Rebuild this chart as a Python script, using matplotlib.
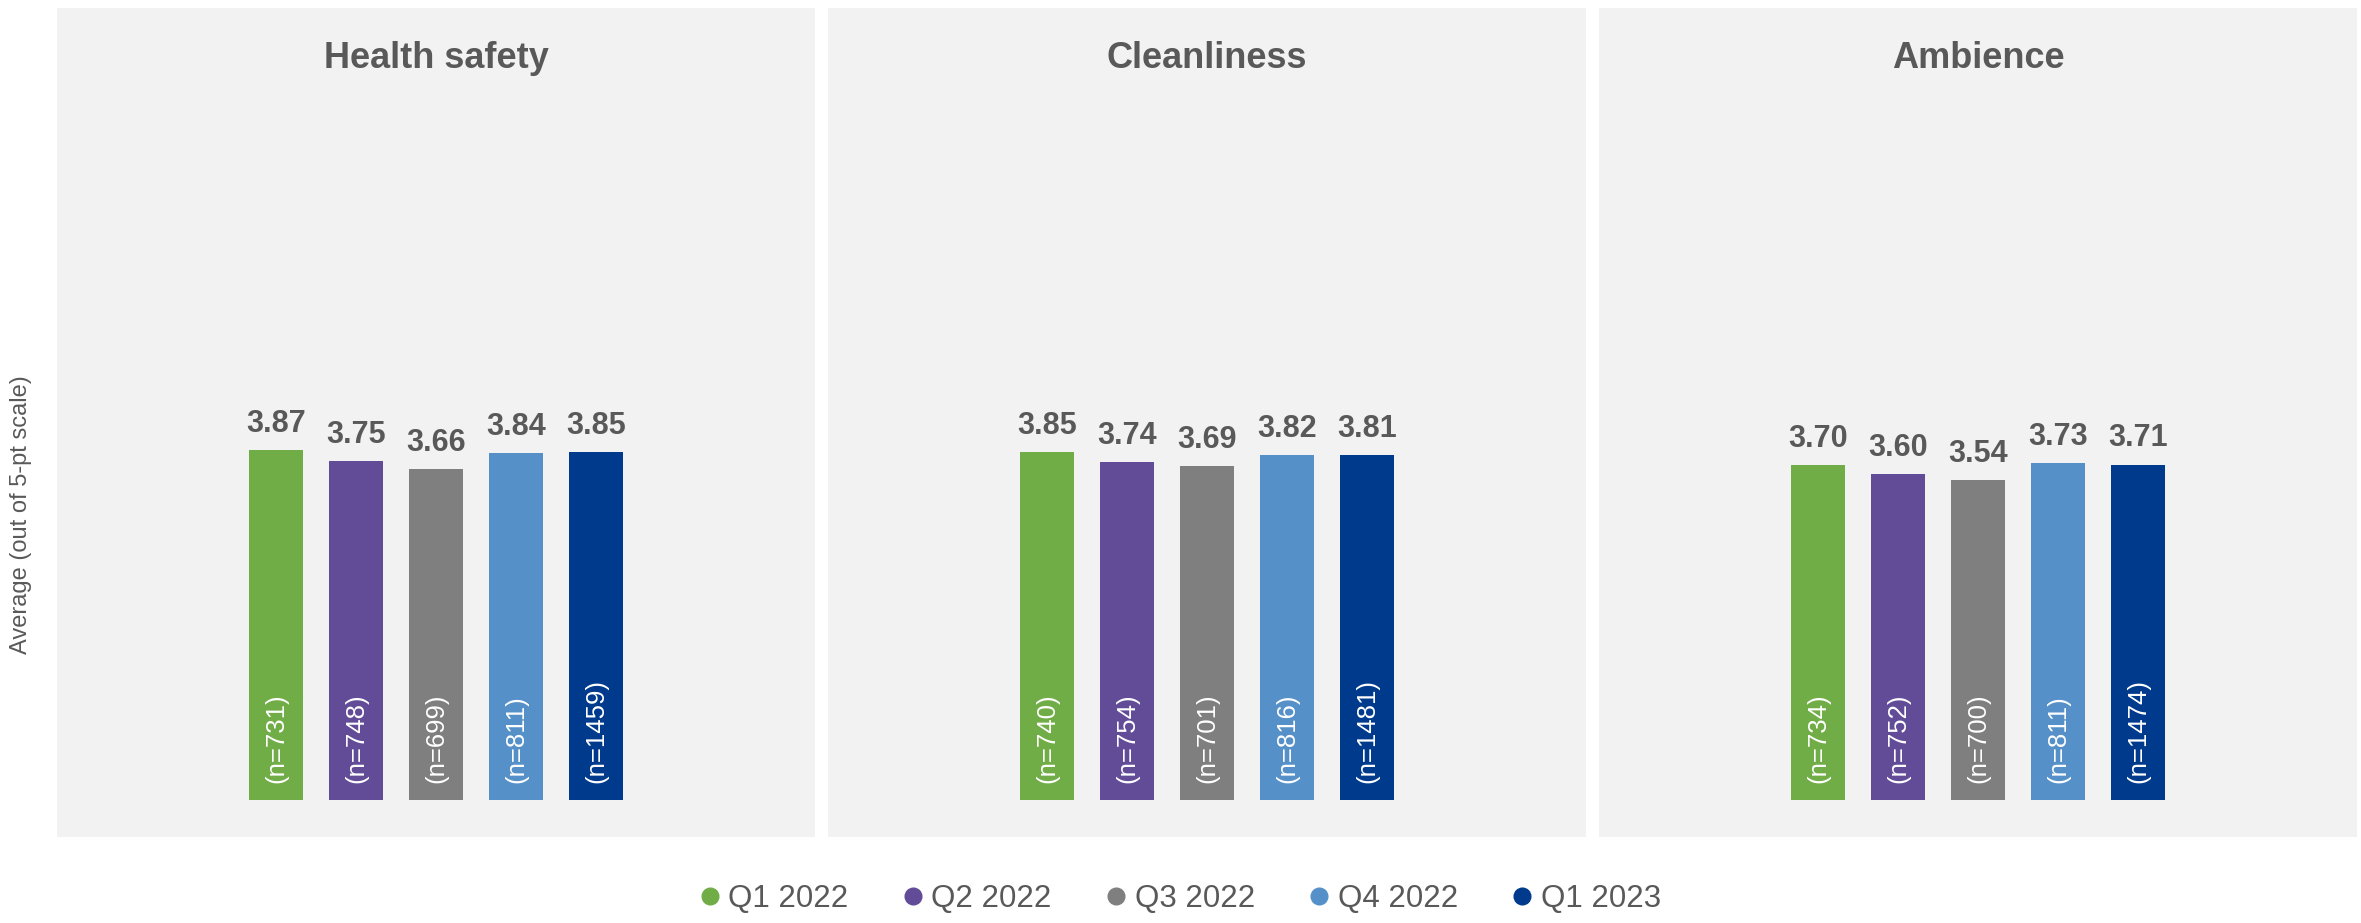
import matplotlib
matplotlib.use("Agg")
import matplotlib.pyplot as plt
from matplotlib.lines import Line2D

plt.rcParams['font.family'] = ['Liberation Sans', 'DejaVu Sans']

# data
quarters = ['Q1 2022', 'Q2 2022', 'Q3 2022', 'Q4 2022', 'Q1 2023']
cores = ['#70AD47', '#624C98', '#7F7F7F', '#5690C8', '#003A8C']
titulos = ['Health safety', 'Cleanliness', 'Ambience']

health_vals = [3.87, 3.75, 3.66, 3.84, 3.85]
health_n = [731, 748, 699, 811, 1459]
clean_vals = [3.85, 3.74, 3.69, 3.82, 3.81]
clean_n = [740, 754, 701, 816, 1481]
amb_vals = [3.70, 3.60, 3.54, 3.73, 3.71]
amb_n = [734, 752, 700, 811, 1474]

valores = [health_vals, clean_vals, amb_vals]
ns = [health_n, clean_n, amb_n]

cinza = '#595959'
W, H = 2361, 923
fig = plt.figure(figsize=(W / 100, H / 100), dpi=100)

lefts = [57, 828, 1599]
largura = 758
base, topo = 837, 8

for k in range(3):
    ax = fig.add_axes([lefts[k] / W, (H - base) / H, largura / W, (base - topo) / H])
    ax.set_facecolor('#F2F2F2')
    for s in ax.spines.values():
        s.set_visible(False)
    ax.set_xticks([])
    ax.set_yticks([])
    x = list(range(len(quarters)))
    ax.bar(x, valores[k], width=0.675, color=cores)
    ax.set_xlim(2 - 4.74, 2 + 4.74)
    ax.set_ylim(-0.41, 8.76)
    for i in x:
        ax.annotate(f'{valores[k][i]:.2f}', (i, valores[k][i]), xytext=(0, 13),
                    textcoords='offset points', ha='center', va='baseline',
                    fontsize=22, fontweight='bold', color=cinza)
        ax.annotate(f'(n={ns[k][i]})', (i, 0), xytext=(0, 12),
                    textcoords='offset points', ha='center', va='bottom',
                    rotation=90, fontsize=18.5, color='white')
    ax.text(0.5, 0.928, titulos[k], transform=ax.transAxes, ha='center',
            va='baseline', fontsize=26, fontweight='bold', color=cinza)

fig.text(21 / W, 1 - 515 / H, 'Average (out of 5-pt scale)', rotation=90,
         ha='center', va='center', fontsize=17, color=cinza)

handles = [Line2D([], [], marker='o', linestyle='', markersize=12,
                  markerfacecolor=c, markeredgecolor=c) for c in cores]
fig.legend(handles, quarters, loc='center', bbox_to_anchor=(0.5, 24 / H),
           ncol=5, frameon=False, fontsize=22.5, labelcolor=cinza,
           handlelength=0.6, handletextpad=0.3, columnspacing=1.75)

fig.savefig('out.png', dpi=100, facecolor='white')
